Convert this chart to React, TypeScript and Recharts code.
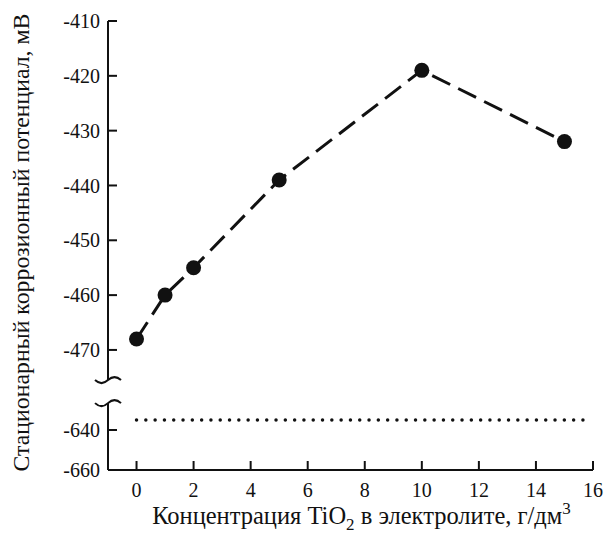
import React from "react"
import { LineChart, Line, XAxis, YAxis, ReferenceLine, ReferenceDot } from "recharts"

// concentration of TiO2, g/dm3
const concentration = [0, 1, 2, 5, 10, 15]
// steady corrosion potential, mV
const potential = [-468, -460, -455, -439, -419, -432]
// dotted reference level (lower part of the broken axis)
const blankX = [0, 15.8]
const blankPotential = [-635, -635]

const xTicks = [0, 2, 4, 6, 8, 10, 12, 14, 16]
const upperTicks = [-410, -420, -430, -440, -450, -460, -470]
const lowerTicks = [-640, -660]

// broken axis: lower part is squeezed and shifted under the upper part
const UPPER_LIMIT = -480
const LOWER_ANCHOR = -640
const LOWER_ANCHOR_V = -484.6
const LOWER_RATIO = 0.365
const BREAK_TOP = -475.5
const BREAK_BOTTOM = -479.7

const toV = (val: number) =>
  val >= UPPER_LIMIT ? val : LOWER_ANCHOR_V + (val - LOWER_ANCHOR) * LOWER_RATIO

const yTickLabels = [...upperTicks, ...lowerTicks]
const yTicks = yTickLabels.map(toV)
const yDomain = [toV(-660), -410]

const fmtY = (v: number) => {
  const i = yTicks.findIndex((t) => Math.abs(t - v) < 1e-6)
  return i >= 0 ? String(yTickLabels[i]) : ""
}

const mainData = concentration.map((x, i) => ({ x, v: toV(potential[i]) }))
const blankData = blankX.map((x, i) => ({ x, v: toV(blankPotential[i]) }))

const INK = "#111"
const FONT = "'Liberation Serif', 'Times New Roman', serif"
const tickText = { fontFamily: FONT, fontSize: "20px", fill: INK }

function XTick(props: any) {
  const { x, y, payload } = props
  return (
    <text x={x} y={y} dy="0.71em" textAnchor="middle" style={tickText}>
      {String(payload.value)}
    </text>
  )
}

function YTick(props: any) {
  const { x, y, payload } = props
  return (
    <text x={x} y={y} dy="0.355em" textAnchor="end" style={tickText}>
      {fmtY(payload.value)}
    </text>
  )
}

function Squiggle(props: any) {
  const { cx, cy } = props
  return (
    <path
      d={`M${cx - 13},${cy} q6.5,6 13,0 t13,0`}
      fill="none"
      stroke={INK}
      strokeWidth={2}
    />
  )
}

function XLabel(props: any) {
  const vb = props.viewBox
  return (
    <text x={vb.x + vb.width / 2 + 11} y={524} textAnchor="middle" fontSize={24.5} fill={INK} fontFamily={FONT}>
      Концентрация TiO
      <tspan dy={6} fontSize={17}>2</tspan>
      <tspan dy={-6}> в электролите, г/дм</tspan>
      <tspan dy={-10} fontSize={17}>3</tspan>
    </text>
  )
}

function YLabel(props: any) {
  const vb = props.viewBox
  const cx = 21
  const cy = vb.y + vb.height / 2 - 3
  return (
    <text
      x={cx}
      y={cy}
      transform={`rotate(-90 ${cx} ${cy})`}
      textAnchor="middle"
      dominantBaseline="central"
      fontSize={23.8}
      fill={INK}
      fontFamily={FONT}
    >
      Стационарный коррозионный потенциал, мВ
    </text>
  )
}

export default function App() {
  return (
    <div style={{ position: "absolute", left: 0, top: 0, background: "#fff", fontFamily: FONT }}>
      <LineChart width={608} height={533} margin={{ top: 21, right: 15, bottom: 0, left: 0 }}>
        <XAxis
          xAxisId="bottom"
          type="number"
          dataKey="x"
          domain={[-1, 16]}
          ticks={xTicks}
          height={63}
          tickSize={-9}
          tickMargin={22}
          tick={XTick}
          stroke={INK}
          axisLine={{ stroke: INK, strokeWidth: 2 }}
          tickLine={{ stroke: INK, strokeWidth: 2 }}
          label={<XLabel />}
          allowDataOverflow
        />
        <XAxis
          xAxisId="top"
          orientation="top"
          type="number"
          dataKey="x"
          domain={[-1, 16]}
          ticks={xTicks}
          height={0}
          tickSize={-9}
          tickFormatter={() => ""}
          axisLine={{ stroke: INK, strokeWidth: 2 }}
          tickLine={{ stroke: INK, strokeWidth: 2 }}
          allowDataOverflow
        />
        <YAxis
          yAxisId="left"
          type="number"
          domain={yDomain}
          ticks={yTicks}
          width={108}
          tickSize={-9}
          tickMargin={17}
          tick={YTick}
          axisLine={false}
          tickLine={{ stroke: INK, strokeWidth: 2 }}
          label={<YLabel />}
          allowDataOverflow
        />
        <YAxis
          yAxisId="right"
          orientation="right"
          type="number"
          domain={yDomain}
          ticks={yTicks}
          width={0}
          tickSize={-9}
          tickFormatter={() => ""}
          axisLine={{ stroke: INK, strokeWidth: 2 }}
          tickLine={{ stroke: INK, strokeWidth: 2 }}
          allowDataOverflow
        />

        <ReferenceLine
          xAxisId="bottom"
          yAxisId="left"
          segment={[{ x: -1, y: -410 }, { x: -1, y: BREAK_TOP }]}
          stroke={INK}
          strokeWidth={2}
          ifOverflow="visible"
        />
        <ReferenceLine
          xAxisId="bottom"
          yAxisId="left"
          segment={[{ x: -1, y: BREAK_BOTTOM }, { x: -1, y: toV(-660) }]}
          stroke={INK}
          strokeWidth={2}
          ifOverflow="visible"
        />
        <ReferenceDot xAxisId="bottom" yAxisId="left" x={-1} y={BREAK_TOP} r={0} shape={<Squiggle />} ifOverflow="visible" />
        <ReferenceDot xAxisId="bottom" yAxisId="left" x={-1} y={BREAK_BOTTOM} r={0} shape={<Squiggle />} ifOverflow="visible" />

        <Line
          xAxisId="bottom"
          yAxisId="left"
          data={blankData}
          dataKey="v"
          type="linear"
          stroke={INK}
          strokeWidth={3.5}
          strokeDasharray="0 9.3"
          strokeLinecap="round"
          dot={false}
          activeDot={false}
          isAnimationActive={false}
        />
        <Line
          xAxisId="bottom"
          yAxisId="left"
          data={mainData}
          dataKey="v"
          type="linear"
          stroke={INK}
          strokeWidth={3}
          strokeDasharray="20 9"
          dot={{ r: 7.5, fill: INK, stroke: "none" }}
          activeDot={false}
          isAnimationActive={false}
        />
      </LineChart>
    </div>
  )
}
